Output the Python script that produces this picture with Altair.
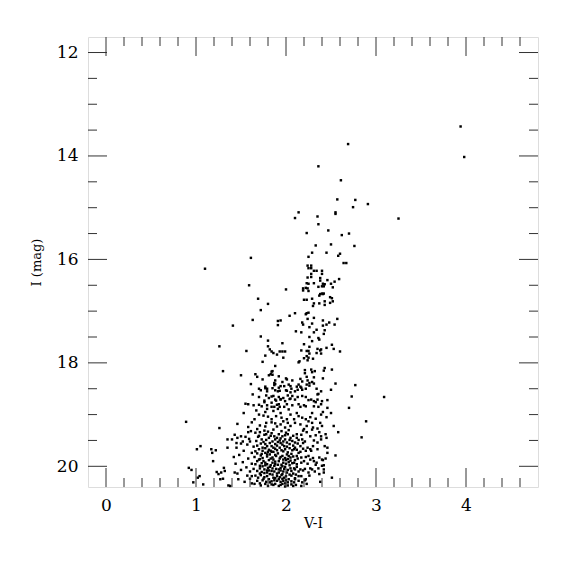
import altair as alt
import pandas as pd

# ---- star photometry: (V-I, I) ----
bright_stars = [
    (3.94, 13.43), (3.98, 14.02), (2.69, 13.77), (2.36, 14.20), (2.61, 14.47),
    (2.57, 14.84), (2.77, 14.85), (2.745, 14.99), (2.91, 14.93), (2.14, 15.09),
    (2.10, 15.20), (2.55, 15.09), (2.55, 15.12), (2.35, 15.17), (3.25, 15.21),
    (2.36, 15.32), (2.23, 15.49), (2.47, 15.44), (2.62, 15.53), (2.70, 15.50),
    (2.33, 15.73), (2.50, 15.71), (2.76, 15.74), (1.61, 15.97), (2.29, 15.87),
    (2.25, 15.95), (2.45, 15.87), (2.58, 15.93), (2.60, 15.89), (2.64, 16.07),
    (2.67, 16.07), (2.24, 16.12), (2.28, 16.12), (2.25, 16.17), (2.28, 16.17),
    (2.31, 16.22), (2.34, 16.22), (2.40, 16.22), (2.40, 16.28), (2.28, 16.28),
    (2.24, 16.35), (2.28, 16.34), (2.38, 16.36), (2.38, 16.41), (2.59, 16.38),
    (2.54, 16.43), (2.46, 16.40), (2.23, 16.46), (2.25, 16.47), (2.31, 16.46),
    (2.41, 16.47), (2.43, 16.48), (2.40, 16.52), (2.42, 16.52), (2.50, 16.47),
    (2.52, 16.54), (1.59, 16.50), (2.00, 16.58), (2.19, 16.56), (2.19, 16.60),
    (2.22, 16.55), (2.25, 16.61), (2.24, 16.56), (2.36, 16.53), (2.38, 16.67),
    (2.40, 16.66), (2.41, 16.67), (2.42, 16.66), (2.37, 16.70), (2.49, 16.73),
    (2.51, 16.75), (1.69, 16.76), (2.20, 16.78), (2.23, 16.78), (2.29, 16.76),
    (2.43, 16.81), (2.37, 16.85), (2.49, 16.84), (2.52, 16.81), (2.31, 16.85),
    (2.30, 16.90), (2.43, 16.88), (1.80, 16.86), (1.72, 16.98), (1.10, 16.18),
]

mid_stars = [
    (2.10, 17.04), (2.04, 17.09), (2.22, 17.06), (2.25, 17.03), (2.23, 17.04),
    (1.63, 17.17), (1.41, 17.28), (1.91, 17.19), (1.94, 17.18), (1.91, 17.27),
    (2.24, 17.15), (2.31, 17.13), (2.41, 17.18), (2.45, 17.26), (2.48, 17.22),
    (2.54, 17.26), (2.57, 17.15), (2.18, 17.22), (2.19, 17.26), (2.29, 17.24),
    (2.41, 17.28), (2.26, 17.31), (2.34, 17.36), (2.43, 17.37), (2.11, 17.39),
    (2.17, 17.41), (2.31, 17.41), (2.42, 17.44), (2.26, 17.50), (1.72, 17.49),
    (2.36, 17.52), (2.37, 17.55), (1.80, 17.57), (2.29, 17.58), (1.96, 17.62),
    (2.20, 17.64), (2.51, 17.65), (2.53, 17.73), (2.45, 17.71), (2.39, 17.74),
    (2.38, 17.76), (2.35, 17.73), (2.26, 17.69), (2.23, 17.77), (2.25, 17.77),
    (2.17, 17.76), (1.80, 17.68), (1.82, 17.74), (1.84, 17.78), (1.86, 17.81),
    (1.93, 17.78), (1.96, 17.78), (1.99, 17.78), (1.90, 17.84), (1.77, 17.86),
    (1.56, 17.77), (2.60, 17.78), (2.34, 17.81), (2.39, 17.82), (2.26, 17.82),
    (2.23, 17.87), (2.25, 17.90), (2.30, 17.92), (1.97, 17.90), (1.26, 17.68),
    (1.74, 17.98), (1.88, 18.06), (1.30, 18.16), (1.50, 18.24), (1.66, 18.22),
    (1.68, 18.27), (1.81, 18.24), (1.83, 18.22), (1.84, 18.17), (1.85, 18.23),
    (1.74, 18.32), (1.92, 18.26), (1.61, 18.41), (1.70, 18.50), (1.72, 18.53),
    (1.77, 18.49), (1.79, 18.50), (1.87, 18.39), (1.88, 18.53), (1.91, 18.55),
    (1.92, 18.48), (1.94, 18.45), (1.63, 18.61), (1.78, 18.63), (1.81, 18.68),
    (1.84, 18.65), (1.92, 18.66), (1.94, 18.70), (1.89, 18.73), (1.55, 18.79),
    (1.58, 18.80), (1.64, 18.82), (1.70, 18.81), (1.76, 18.76), (1.79, 18.82),
    (1.84, 18.77), (1.87, 18.85), (1.90, 18.81), (1.93, 18.85),
    (2.14, 17.99), (2.15, 17.97), (2.20, 17.91), (2.24, 17.95), (1.85, 18.16),
    (2.21, 18.14), (2.21, 18.20), (2.23, 18.27), (2.28, 18.13), (2.29, 18.18),
    (2.32, 18.16), (2.31, 18.28), (2.43, 18.10), (2.42, 18.15), (2.51, 18.13),
    (2.41, 18.30), (1.88, 18.34), (2.00, 18.30), (1.96, 18.37), (2.07, 18.34),
    (2.16, 18.31), (2.18, 18.36), (2.24, 18.34), (2.29, 18.37), (2.55, 18.40),
    (2.77, 18.43), (1.87, 18.43), (1.98, 18.45), (2.01, 18.54), (2.05, 18.45),
    (2.06, 18.50), (2.10, 18.55), (2.12, 18.46), (2.14, 18.42), (2.16, 18.46),
    (2.18, 18.52), (2.22, 18.50), (2.23, 18.42), (2.26, 18.39), (2.31, 18.40),
    (2.34, 18.50), (2.39, 18.55), (2.36, 18.60), (2.50, 18.52), (2.73, 18.65),
    (3.09, 18.66), (1.86, 18.64), (1.94, 18.71), (1.97, 18.68), (2.02, 18.63),
    (2.05, 18.69), (2.07, 18.64), (2.10, 18.71), (2.13, 18.66), (2.18, 18.64),
    (2.22, 18.66), (2.25, 18.72), (2.28, 18.71), (2.31, 18.74), (2.35, 18.71),
    (2.40, 18.74), (2.46, 18.72), (1.92, 18.80), (2.01, 18.80), (2.07, 18.82),
    (2.16, 18.85), (2.22, 18.84), (2.31, 18.84), (2.36, 18.85), (2.46, 18.87),
    (2.70, 18.87), (2.01, 18.32), (2.03, 18.42), (1.88, 18.41), (1.77, 18.46),
    (1.79, 18.55), (1.85, 18.49), (1.93, 18.54), (2.00, 18.53), (2.05, 18.57),
    (2.26, 18.44), (2.17, 18.48), (2.13, 18.52), (2.35, 18.61), (2.33, 18.76),
    (2.39, 18.80), (2.14, 18.80), (2.20, 18.82), (1.70, 18.66), (1.76, 18.73),
    (1.88, 18.71), (1.99, 18.74), (2.04, 18.70), (1.73, 18.84), (1.79, 18.89),
    (1.84, 18.85), (1.86, 18.93), (1.91, 18.89), (1.94, 18.97), (1.98, 18.85),
    (2.03, 18.90), (2.05, 19.00), (1.75, 19.02), (1.80, 19.04), (1.84, 19.09),
    (1.89, 19.03), (1.95, 19.06), (2.01, 19.09), (1.77, 18.95), (1.70, 19.00),
    (1.53, 18.97), (1.67, 18.92), (1.65, 19.09), (0.89, 19.14), (1.26, 19.26),
    (1.46, 19.18), (1.58, 19.24), (1.71, 19.21), (1.77, 19.23), (1.78, 19.16),
    (1.84, 19.15), (1.88, 19.17), (1.90, 19.23), (1.94, 19.19), (1.97, 19.13),
    (2.02, 19.16), (2.05, 19.22), (1.99, 19.25), (2.29, 18.97), (2.39, 19.00),
    (2.41, 18.95), (2.14, 19.03), (2.18, 19.06), (2.22, 19.09), (2.25, 19.13),
    (2.10, 19.16), (2.16, 19.19), (2.23, 19.22), (2.29, 19.16), (2.38, 19.16),
    (2.40, 19.22), (2.53, 19.22), (2.89, 19.13), (2.09, 19.09), (2.12, 18.97),
    (1.62, 19.15), (1.68, 19.28), (1.61, 19.32), (2.27, 19.05), (2.33, 19.08),
    (2.35, 19.27), (2.45, 19.05), (2.30, 19.25), (2.20, 19.28), (2.50, 18.97),
]

faint_blue_stars = [
    (1.01, 19.67), (1.05, 19.61), (1.17, 19.67), (1.18, 19.74), (1.22, 19.69),
    (1.19, 19.90), (1.35, 19.64), (0.92, 20.03), (0.95, 20.07), (1.02, 20.22),
    (1.04, 20.19), (0.97, 20.31), (1.08, 20.35), (1.23, 20.11), (1.25, 20.15),
    (1.28, 20.12), (1.31, 20.03), (1.32, 20.09), (1.30, 20.24), (1.27, 20.25),
    (1.36, 20.37), (1.43, 20.12), (1.46, 20.14), (1.54, 20.30), (1.45, 19.64),
    (1.60, 20.24), (1.65, 20.34), (1.38, 20.38), (1.40, 19.48), (1.45, 19.55),
    (1.55, 19.43), (1.57, 19.58), (1.53, 19.70), (1.48, 19.78), (1.58, 19.85),
    (1.52, 19.92), (1.44, 19.95), (1.56, 20.02), (1.60, 20.10), (1.50, 20.07),
    (1.57, 20.18), (1.47, 20.25), (1.62, 20.33), (1.35, 19.48), (1.42, 19.82),
    (1.60, 19.52), (1.43, 19.39), (1.50, 19.42), (1.46, 19.45), (1.50, 19.56),
    (1.52, 19.52), (1.58, 19.34), (1.59, 19.47), (1.66, 19.35),
]

faint_core_stars = [
    (1.69, 19.43), (1.71, 19.34), (1.73, 19.48), (1.78, 19.38), (1.81, 19.45),
    (1.84, 19.36), (1.88, 19.48), (1.92, 19.38), (1.96, 19.42), (2.00, 19.35),
    (2.05, 19.45), (2.01, 19.54), (1.96, 19.58), (1.90, 19.60), (1.84, 19.61),
    (1.79, 19.61), (1.74, 19.64), (1.68, 19.60), (1.64, 19.62), (1.62, 19.74),
    (1.68, 19.75), (1.72, 19.79), (1.77, 19.74), (1.82, 19.77), (1.86, 19.72),
    (1.91, 19.75), (1.96, 19.80), (2.01, 19.77), (2.05, 19.83), (1.70, 19.87),
    (1.75, 19.90), (1.81, 19.88), (1.86, 19.87), (1.92, 19.90), (1.97, 19.93),
    (2.03, 19.92), (1.66, 19.96), (1.71, 19.99), (1.77, 19.98), (1.82, 20.01),
    (1.88, 19.96), (1.94, 20.03), (1.99, 20.01), (2.05, 20.04), (1.68, 20.09),
    (1.73, 20.11), (1.79, 20.12), (1.84, 20.09), (1.90, 20.14), (1.96, 20.15),
    (2.01, 20.12), (1.62, 20.19), (1.69, 20.22), (1.75, 20.24), (1.81, 20.25),
    (1.86, 20.22), (1.92, 20.25), (1.97, 20.28), (2.03, 20.25), (1.71, 20.33),
    (1.77, 20.34), (1.82, 20.31), (1.88, 20.34), (1.94, 20.36), (1.99, 20.33),
    (1.76, 19.31), (1.86, 19.29), (1.95, 19.32), (2.03, 19.30), (2.19, 19.31),
    (2.29, 19.29), (1.70, 19.41), (1.76, 19.39), (1.87, 19.42), (1.99, 19.40),
    (2.08, 19.41), (2.17, 19.39), (2.27, 19.42), (2.33, 19.40), (1.67, 19.51),
    (1.78, 19.49), (1.85, 19.52), (1.93, 19.50), (1.99, 19.48), (2.07, 19.51),
    (2.14, 19.49), (2.21, 19.52), (2.31, 19.50), (2.39, 19.48), (1.72, 19.56),
    (1.82, 19.55), (1.88, 19.57), (1.94, 19.55), (2.04, 19.57), (2.13, 19.56),
    (2.19, 19.55), (1.70, 19.67), (1.77, 19.65), (1.81, 19.68), (1.88, 19.66),
    (1.93, 19.64), (1.99, 19.67), (2.04, 19.65), (2.12, 19.68), (2.19, 19.66),
    (2.24, 19.64), (2.35, 19.67), (1.66, 19.71), (1.74, 19.70), (1.84, 19.72),
    (1.97, 19.71), (2.07, 19.69), (2.16, 19.72), (2.28, 19.70), (1.65, 19.82),
    (1.74, 19.84), (1.79, 19.81), (1.85, 19.83), (1.89, 19.80), (1.94, 19.82),
    (1.99, 19.84), (2.08, 19.81), (2.17, 19.83), (2.22, 19.82), (2.30, 19.84),
    (1.71, 19.86), (1.83, 19.85), (1.97, 19.87), (2.02, 19.86), (2.13, 19.85),
    (2.27, 19.87), (2.44, 19.85), (1.62, 19.95), (1.73, 19.94), (1.79, 19.96),
    (1.85, 19.93), (1.91, 19.97), (2.00, 19.95), (2.07, 19.94), (2.12, 19.96),
    (2.17, 19.93), (2.24, 19.95), (2.33, 19.97), (1.64, 20.05), (1.71, 20.04),
    (1.76, 20.06), (1.85, 20.04), (1.92, 20.06), (1.98, 20.05), (2.02, 20.07),
    (2.09, 20.04), (2.16, 20.06), (2.21, 20.05), (2.27, 20.04), (1.81, 20.08),
    (1.87, 20.10), (1.94, 20.08), (2.06, 20.09), (2.19, 20.08), (2.32, 20.10),
    (1.66, 20.18), (1.72, 20.17), (1.79, 20.19), (1.85, 20.16), (1.90, 20.19),
    (1.95, 20.17), (2.00, 20.19), (2.06, 20.18), (2.11, 20.16), (2.17, 20.19),
    (2.26, 20.18), (1.68, 20.28), (1.74, 20.27), (1.84, 20.29), (1.90, 20.28),
    (1.94, 20.30), (2.00, 20.27), (2.06, 20.29), (2.14, 20.28), (2.21, 20.27),
    (1.72, 20.37), (1.80, 20.38), (1.86, 20.36), (1.92, 20.38), (2.02, 20.37),
    (2.11, 20.36), (2.17, 20.38),
    (1.80, 19.33), (1.90, 19.45), (2.02, 19.38), (2.12, 19.45), (1.75, 19.53),
    (1.98, 19.61), (2.08, 19.60), (1.80, 19.72), (1.90, 19.69), (2.02, 19.73),
    (1.68, 19.90), (1.88, 19.91), (2.05, 19.89), (1.80, 20.03), (1.96, 20.00),
    (2.12, 20.01), (1.76, 20.13), (1.92, 20.12), (2.08, 20.14), (1.78, 20.30),
    (1.88, 20.23), (1.98, 20.22), (2.10, 20.23), (1.96, 20.34), (2.06, 20.35),
    (1.83, 19.41), (1.94, 19.46), (2.04, 19.49), (1.77, 19.57), (1.86, 19.64),
    (1.95, 19.69), (2.01, 19.62), (2.10, 19.64), (1.79, 19.77), (1.88, 19.78),
    (1.93, 19.85), (2.03, 19.80), (2.10, 19.88), (1.77, 19.93), (1.83, 19.98),
    (1.95, 19.97), (2.04, 19.98), (1.74, 20.00), (1.89, 20.05), (1.97, 20.10),
    (2.04, 20.16), (1.82, 20.15), (1.71, 20.14), (1.87, 20.27), (1.93, 20.21),
    (2.02, 20.31), (1.76, 20.21), (1.84, 20.35), (1.99, 20.39), (2.09, 20.31),
    (1.91, 19.53), (1.83, 19.70), (2.06, 19.76), (1.87, 19.99), (2.14, 20.10),
    (1.97, 19.52), (1.73, 19.76), (2.00, 19.88), (1.79, 20.08), (1.96, 20.24),
]

faint_red_stars = [
    (2.37, 19.34), (2.44, 19.38), (2.45, 19.45), (2.58, 19.34), (2.84, 19.44),
    (2.39, 19.42), (2.35, 19.54), (2.43, 19.61), (2.46, 19.74), (2.55, 19.79),
    (2.37, 19.83), (2.41, 19.88), (2.34, 19.93), (2.40, 19.99), (2.36, 20.04),
    (2.42, 20.12), (2.37, 20.15), (2.51, 20.22), (2.38, 20.30), (2.29, 20.06),
    (2.31, 19.90), (2.25, 19.80), (2.27, 19.67), (2.30, 19.61), (2.22, 19.70),
    (2.20, 19.90), (2.25, 20.12), (2.22, 20.25), (2.18, 20.31), (2.23, 20.34),
    (2.14, 20.19), (2.10, 20.06), (2.09, 19.93), (2.12, 19.80), (2.16, 19.61),
    (2.10, 19.54), (2.18, 19.48), (2.12, 19.38), (2.23, 19.34), (2.09, 19.67),
    (2.14, 19.74), (2.10, 20.25), (2.08, 20.38), (2.46, 19.64), (2.42, 19.98),
    (2.40, 19.87), (2.42, 20.06),
]

stars = bright_stars + mid_stars + faint_blue_stars + faint_core_stars + faint_red_stars
df = pd.DataFrame(stars, columns=["vi", "imag"])

# ---- axis ticks ----
x_major = [0, 1, 2, 3, 4]
x_minor = [0.2, 0.4, 0.6, 0.8, 1.2, 1.4, 1.6, 1.8, 2.2, 2.4, 2.6, 2.8,
           3.2, 3.4, 3.6, 3.8, 4.2, 4.4, 4.6]
y_major = [12, 14, 16, 18, 20]
y_minor = [12.5, 13, 13.5, 14.5, 15, 15.5, 16.5, 17, 17.5, 18.5, 19, 19.5]

W, H = 450, 450
MAJ, MIN = 19, 9
FONT = "DejaVu Serif"
TICK_COLOR = "#333333"

xs = alt.Scale(domain=[-0.2, 4.8], nice=False, zero=False)
ys = alt.Scale(domain=[11.7, 20.4], nice=False, zero=False, reverse=True)

x_axis = alt.Axis(values=x_major, title="V-I", ticks=False, domain=False, grid=False,
                  labelFont=FONT, labelFontSize=17, labelColor="black", labelPadding=10,
                  titleFont=FONT, titleFontSize=14, titleFontWeight="normal",
                  titleColor="black", titlePadding=3, format="d")
y_axis = alt.Axis(values=y_major, title="I (mag)", ticks=False, domain=False, grid=False,
                  labelFont=FONT, labelFontSize=17, labelColor="black", labelPadding=10,
                  titleFont=FONT, titleFontSize=13, titleFontWeight="normal",
                  titleColor="black", titlePadding=13, format="d")

points = alt.Chart(df).mark_square(size=6, color="black", opacity=1).encode(
    x=alt.X("vi:Q", scale=xs, axis=x_axis),
    y=alt.Y("imag:Q", scale=ys, axis=y_axis),
)

def xticks(vals, length):
    d = pd.DataFrame({"v": vals})
    base = alt.Chart(d).mark_rule(color=TICK_COLOR, strokeWidth=1)
    bottom = base.encode(x=alt.X("v:Q", scale=xs, axis=x_axis),
                         y=alt.value(H), y2=alt.value(H - length))
    top = base.encode(x=alt.X("v:Q", scale=xs, axis=x_axis),
                      y=alt.value(0), y2=alt.value(length))
    return [bottom, top]

def yticks(vals, length):
    d = pd.DataFrame({"v": vals})
    base = alt.Chart(d).mark_rule(color=TICK_COLOR, strokeWidth=1)
    left = base.encode(y=alt.Y("v:Q", scale=ys, axis=y_axis),
                       x=alt.value(0), x2=alt.value(length))
    right = base.encode(y=alt.Y("v:Q", scale=ys, axis=y_axis),
                        x=alt.value(W), x2=alt.value(W - length))
    return [left, right]

layers = [points] + xticks(x_major, MAJ) + xticks(x_minor, MIN) + yticks(y_major, MAJ) + yticks(y_minor, MIN)

chart = alt.layer(*layers).properties(
    width=W, height=H,
    autosize=alt.AutoSizeParams(type="none"),
    padding={"left": 80, "top": 29, "right": 20, "bottom": 60},
).configure_view(
    stroke=TICK_COLOR, strokeWidth=1.2
).configure(background="white")

chart.save("out.html", embed_options={"renderer": "svg", "actions": False})
